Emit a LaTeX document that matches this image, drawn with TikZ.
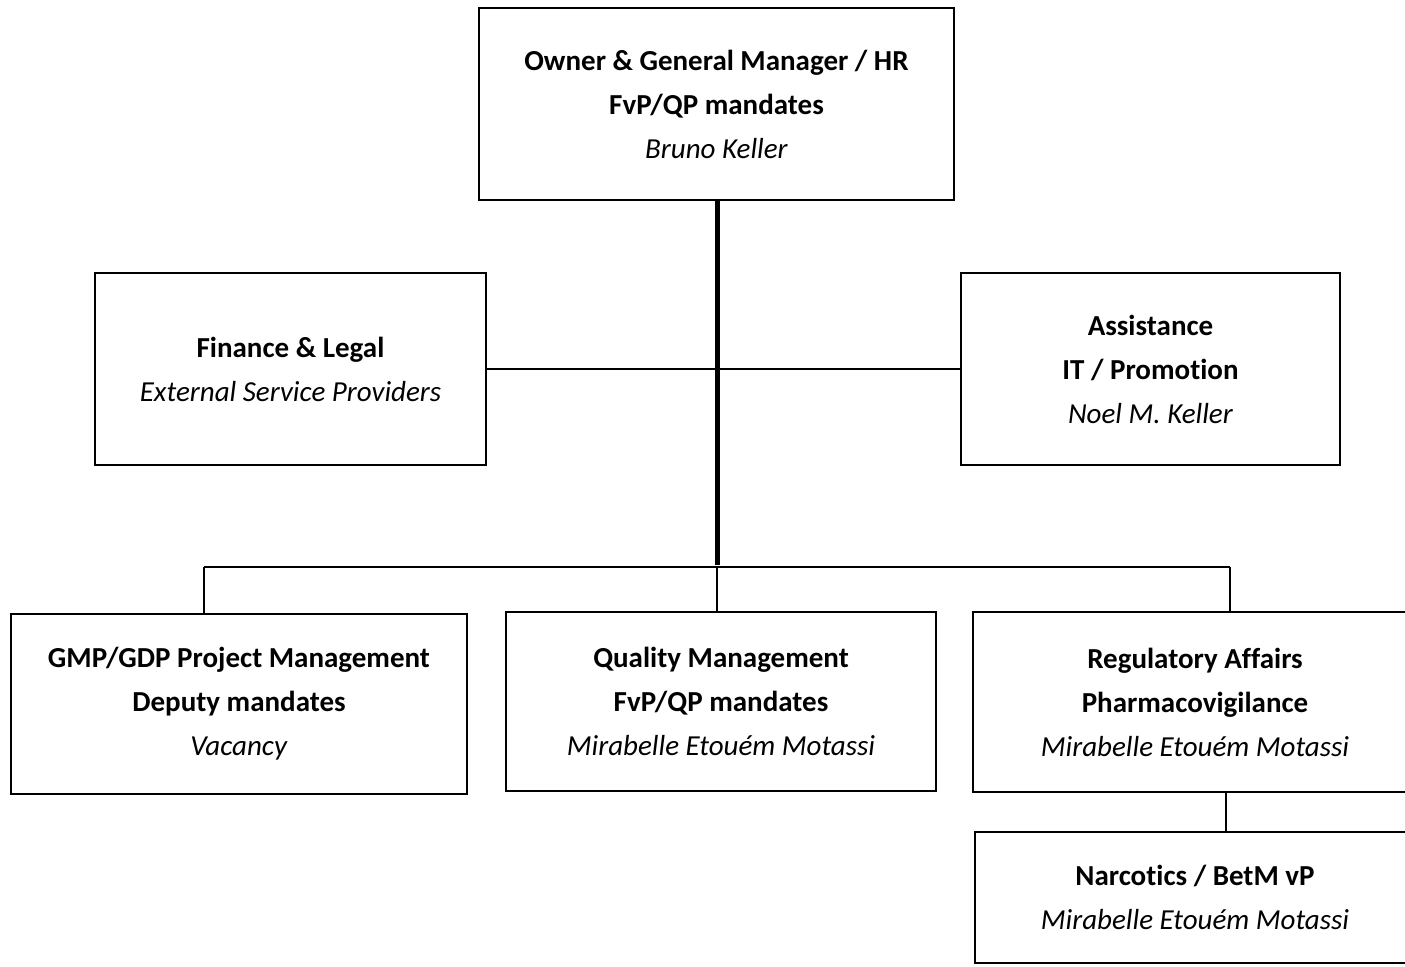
\documentclass[tikz,border=0pt]{standalone}
\usepackage{fontspec}
\setmainfont{Carlito}[Ligatures=NoCommon]
\tikzset{
  orgbox/.style={draw, line width=1pt, align=center, inner sep=0pt,
    font=\fontsize{14.5}{22}\selectfont},
  link/.style={line width=1pt},
  trunk/.style={line width=2.5pt}
}

\begin{document}
\begin{tikzpicture}[x=0.5pt, y=-0.5pt]
  \useasboundingbox (0,0) rectangle (1405,966);
  \begin{scope}[every node/.style=orgbox]
    \node (owner) [minimum width=237.5pt, minimum height=96pt] at (716.5,104)
      {\textbf{Owner \& General Manager / HR}\\ \textbf{FvP/QP mandates}\\ \textit{Bruno Keller}};
    \node (finance) [minimum width=195.5pt, minimum height=96pt] at (290.5,369)
      {\textbf{Finance \& Legal}\\ \textit{External Service Providers}};
    \node (assist) [minimum width=189.5pt, minimum height=96pt] at (1150.5,369)
      {\textbf{Assistance}\\ \textbf{IT / Promotion}\\ \textit{Noel M. Keller}};
    \node (gmp) [minimum width=228pt, minimum height=90pt] at (239,704)
      {\textbf{GMP/GDP Project Management}\\ \textbf{Deputy mandates}\\ \textit{Vacancy}};
    \node (quality) [minimum width=215pt, minimum height=89.5pt] at (721,701.5)
      {\textbf{Quality Management}\\ \textbf{FvP/QP mandates}\\ \textit{Mirabelle Etouém Motassi}};
    \node (regaff) [minimum width=222pt, minimum height=90pt] at (1195,702)
      {\textbf{Regulatory Affairs}\\ \textbf{Pharmacovigilance}\\ \textit{Mirabelle Etouém Motassi}};
    \node (narco) [minimum width=220pt, minimum height=65.5pt] at (1195,897.5)
      {\textbf{Narcotics / BetM vP}\\ \textit{Mirabelle Etouém Motassi}};
  \end{scope}
  \coordinate (busL) at (204,567);
  \coordinate (busM) at (717,567);
  \coordinate (busR) at (1230,567);
  \coordinate (narcoUp) at (1226,0);
  \draw [link] (finance.east) -- (assist.west);
  \draw [trunk] (owner.south -| busM) -- ([yshift=1pt]busM);
  \draw [link] (busL) -- (busR);
  \draw [link] (busL) -- (busL |- gmp.north);
  \draw [line width=0.75pt] (busM) -- (busM |- quality.north);
  \draw [link] (busR) -- (busR |- regaff.north);
  \draw [link] (narcoUp |- regaff.south) -- (narcoUp |- narco.north);
\end{tikzpicture}
\end{document}
